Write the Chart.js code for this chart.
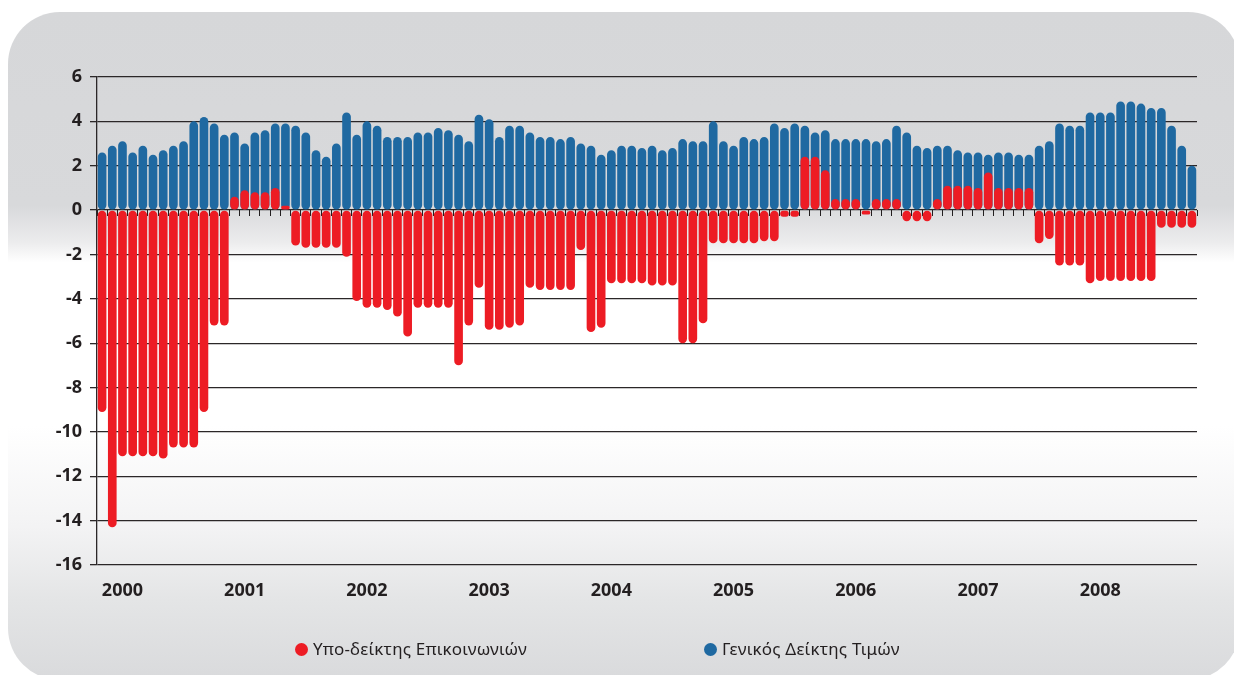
<!DOCTYPE html>
<html>
<head>
<meta charset="utf-8">
<script src="https://cdn.jsdelivr.net/npm/chart.js@4.4.1/dist/chart.umd.min.js"></script>
<style>
    body { margin: 0; background: #ffffff; width: 1234px; height: 675px; overflow: hidden; position: relative; }
    #panel {
        position: absolute; left: 8px; top: 12px; width: 1232px; height: 668px;
        border-radius: 52px;
        background: linear-gradient(to bottom, #d6d7d9 0%, #d8d9db 29%, #ececed 34.5%, #ffffff 37.5%, #ffffff 62%, #f3f3f4 77%, #e4e5e6 88%, #d9dadc 100%);
    }
    #wrap { position: absolute; left: 0; top: 0; width: 1234px; height: 675px; }
    .legend-item { position: absolute; top: 637px; font: 17px 'Noto Sans', sans-serif; letter-spacing: 0.2px; color: #231f20; white-space: nowrap; }
    .legend-item span.dot { display: inline-block; width: 13px; height: 13px; border-radius: 50%; margin-right: 5px; vertical-align: -1px; }
</style>
</head>
<body>
<div id="panel"></div>
<div id="wrap"><canvas id="inflation_chart"></canvas></div>
<div class="legend-item" style="left:295px"><span class="dot" style="background:#ed1c24"></span>Υπο-δείκτης Επικοινωνιών</div>
<div class="legend-item" style="left:704px"><span class="dot" style="background:#1f69a1"></span>Γενικός Δείκτης Τιμών</div>

<script>
// years / months on the category axis
const years = ["2000", "2001", "2002", "2003", "2004", "2005", "2006", "2007", "2008"];
const months = ["01", "02", "03", "04", "05", "06", "07", "08", "09", "10", "11", "12"];

// Υπο-δείκτης Επικοινωνιών (red)
const commValues = [
    -9.1, -14.3, -11.1, -11.1, -11.1, -11.1, -11.2, -10.7, -10.7, -10.7, -9.1, -5.2,
    -5.2, 0.6, 0.9, 0.8, 0.8, 1.0, 0.2, -1.6, -1.7, -1.7, -1.7, -1.7,
    -2.1, -4.1, -4.4, -4.4, -4.5, -4.8, -5.7, -4.4, -4.4, -4.4, -4.4, -7.0,
    -5.2, -3.5, -5.4, -5.4, -5.3, -5.2, -3.5, -3.6, -3.6, -3.6, -3.6, -1.8,
    -5.5, -5.3, -3.3, -3.3, -3.3, -3.3, -3.4, -3.4, -3.4, -6.0, -6.0, -5.1,
    -1.5, -1.5, -1.5, -1.5, -1.5, -1.4, -1.4, -0.3, -0.3, 2.4, 2.4, 1.8,
    0.5, 0.5, 0.5, -0.2, 0.5, 0.5, 0.5, -0.5, -0.5, -0.5, 0.5, 1.1,
    1.1, 1.1, 1.0, 1.7, 1.0, 1.0, 1.0, 1.0, -1.5, -1.3, -2.5, -2.5,
    -2.5, -3.3, -3.2, -3.2, -3.2, -3.2, -3.2, -3.2, -0.8, -0.8, -0.8, -0.8
];

// Γενικός Δείκτης Τιμών (blue)
const cpiValues = [
    2.6, 2.9, 3.1, 2.6, 2.9, 2.5, 2.7, 2.9, 3.1, 4.0, 4.2, 3.9,
    3.4, 3.5, 3.0, 3.5, 3.6, 3.9, 3.9, 3.8, 3.5, 2.7, 2.4, 3.0,
    4.4, 3.4, 4.0, 3.8, 3.3, 3.3, 3.3, 3.5, 3.5, 3.7, 3.6, 3.4,
    3.1, 4.3, 4.1, 3.3, 3.8, 3.8, 3.5, 3.3, 3.3, 3.2, 3.3, 3.0,
    2.9, 2.5, 2.7, 2.9, 2.9, 2.8, 2.9, 2.7, 2.8, 3.2, 3.1, 3.1,
    4.0, 3.1, 2.9, 3.3, 3.2, 3.3, 3.9, 3.7, 3.9, 3.8, 3.5, 3.6,
    3.2, 3.2, 3.2, 3.2, 3.1, 3.2, 3.8, 3.5, 2.9, 2.8, 2.9, 2.9,
    2.7, 2.6, 2.6, 2.5, 2.6, 2.6, 2.5, 2.5, 2.9, 3.1, 3.9, 3.8,
    3.8, 4.4, 4.4, 4.4, 4.9, 4.9, 4.8, 4.6, 4.6, 3.8, 2.9, 2.0
];

const yTicks = [-16, -14, -12, -10, -8, -6, -4, -2, 0, 2, 4, 6];

const labels = years.flatMap(y => months.map(m => y + "-" + m));

Chart.defaults.font.family = "'Noto Sans', sans-serif";
Chart.defaults.color = "#231f20";

const ctx = document.getElementById("inflation_chart").getContext("2d");
const inflation_chart = new Chart(ctx, {
    type: "bar",
    data: {
        labels: labels,
        datasets: [
            {
                label: "Υπο-δείκτης Επικοινωνιών",
                data: commValues,
                backgroundColor: "#ed1c24",
                order: 0,
                xAxisID: "x"
            },
            {
                label: "Γενικός Δείκτης Τιμών",
                data: cpiValues,
                backgroundColor: "#1f69a1",
                order: 1,
                xAxisID: "x"
            }
        ]
    },
    options: {
        responsive: true,
        maintainAspectRatio: false,
        animation: false,
        layout: { padding: { left: 0, right: 37, top: 77, bottom: 70 } },
        datasets: {
            bar: {
                grouped: false,
                barPercentage: 0.85,
                categoryPercentage: 1,
                borderRadius: 10,
                borderSkipped: false
            }
        },
        plugins: {
            legend: { display: false },
            tooltip: { enabled: false }
        },
        scales: {
            x: {
                type: "category",
                offset: true,
                grid: { display: false, drawTicks: false },
                border: { display: false },
                ticks: {
                    autoSkip: false,
                    maxRotation: 0,
                    padding: 15,
                    font: { size: 18, weight: "bold" },
                    callback: function (value, index) {
                        // year label sits under the third month of each year
                        return index % 12 === 2 ? labels[index].slice(0, 4) : "";
                    }
                },
                afterFit: function (scale) { scale.height = 40; }
            },
            x2: {
                type: "category",
                axis: "x",
                position: { y: 0 },
                offset: true,
                grid: { offset: true, drawOnChartArea: false, drawTicks: true, tickLength: 6, color: "#231f20", lineWidth: 1 },
                border: { display: false },
                ticks: { display: false }
            },
            y: {
                min: -16,
                max: 6,
                afterBuildTicks: function (scale) {
                    scale.ticks = yTicks.map(v => ({ value: v }));
                },
                grid: { color: "#2b2728", lineWidth: 1.3, tickLength: 7 },
                border: { display: true, color: "#2b2728", width: 1.3 },
                ticks: {
                    padding: 8,
                    font: { size: 18, weight: "bold" }
                },
                afterFit: function (scale) { scale.width = 97; }
            }
        }
    }
});
</script>
</body>
</html>
